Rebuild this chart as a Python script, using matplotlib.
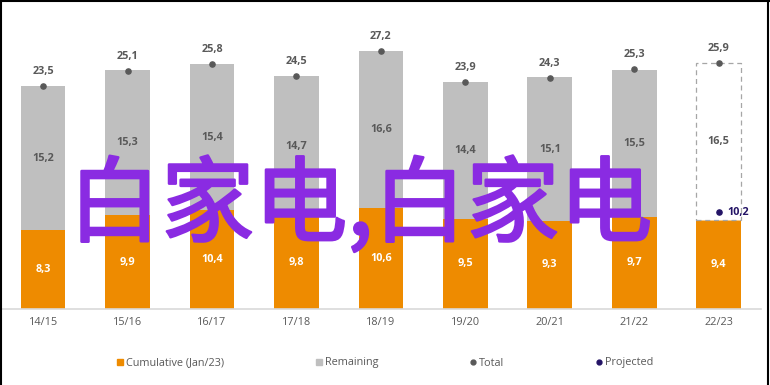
import matplotlib
matplotlib.use("Agg")
import matplotlib.pyplot as plt
from matplotlib.lines import Line2D
import matplotlib.patheffects as pe
import numpy as np

seasons = ["14/15", "15/16", "16/17", "17/18", "18/19", "19/20", "20/21", "21/22", "22/23"]
cumulative = [8.3, 9.9, 10.4, 9.8, 10.6, 9.5, 9.3, 9.7, 9.4]
remaining = [15.2, 15.3, 15.4, 14.7, 16.6, 14.4, 15.1, 15.5, 16.5]
total = [23.5, 25.1, 25.8, 24.5, 27.2, 23.9, 24.3, 25.3, 25.9]
projected = [None, None, None, None, None, None, None, None, 10.2]
projected_flag = [False, False, False, False, False, False, False, False, True]

ORANGE = "#EE8B00"
GREY = "#BFBFBF"
DOT = "#595959"
PROJ = "#241466"
TXT = "#595959"
WM = "#8A2BE2"

plt.rcParams['font.family'] = ['Open Sans', 'DejaVu Sans']

def fmt(v):
    return f"{v:.1f}".replace(".", ",")

fig = plt.figure(figsize=(7.7, 3.85), dpi=100)
ax = fig.add_axes([0.0, 0.1974, 0.9883, 0.7395])

x = np.arange(len(seasons))
w = 0.53
FS = 7.8

ax.bar(x, cumulative, width=w, color=ORANGE, zorder=2)
for i in range(len(seasons)):
    if projected_flag[i]:
        ax.bar(x[i], remaining[i], bottom=cumulative[i], width=w, facecolor="white",
               edgecolor="#A6A6A6", linestyle=(0, (4, 3)), linewidth=0.9, zorder=2)
    else:
        ax.bar(x[i], remaining[i], bottom=cumulative[i], width=w, color=GREY, zorder=2)

ax.scatter(x, total, s=14, color=DOT, zorder=4)

for i in range(len(seasons)):
    ax.text(x[i], cumulative[i] / 2, fmt(cumulative[i]), ha="center", va="center",
            color="white", fontsize=FS, fontweight="bold", zorder=5)
    ax.text(x[i], cumulative[i] + remaining[i] / 2, fmt(remaining[i]), ha="center", va="center",
            color=TXT, fontsize=FS, fontweight="bold", zorder=5)
    ax.annotate(fmt(total[i]), (x[i], total[i]), xytext=(0, 6.5), textcoords="offset points",
                ha="center", va="bottom", color=TXT, fontsize=FS, fontweight="bold", zorder=5)
    if projected[i] is not None:
        ax.scatter([x[i]], [projected[i]], s=14, color=PROJ, zorder=5)
        ax.annotate(fmt(projected[i]), (x[i], projected[i]), xytext=(6, 0), textcoords="offset points",
                    ha="left", va="center", color=PROJ, fontsize=FS, fontweight="bold", zorder=5)

ax.set_xlim(-0.51, 8.5)
ax.set_ylim(0, 30)
ax.set_xticks(x)
ax.set_xticklabels(seasons, color=TXT, fontsize=FS)
ax.tick_params(axis="x", length=0, pad=6)
ax.set_yticks([])
for s in ["left", "right", "top"]:
    ax.spines[s].set_visible(False)
ax.spines["bottom"].set_color("#D9D9D9")
ax.spines["bottom"].set_linewidth(1.2)

handles = [
    Line2D([0], [0], marker="s", linestyle="none", color=ORANGE, markersize=4.5),
    Line2D([0], [0], marker="s", linestyle="none", color=GREY, markersize=4.5),
    Line2D([0], [0], marker="o", linestyle="none", color=DOT, markersize=3.5),
    Line2D([0], [0], marker="o", linestyle="none", color=PROJ, markersize=3.5),
]
labels = ["Cumulative (Jan/23)", "Remaining", "Total", "Projected"]
leg = fig.legend(handles, labels, loc="center", bbox_to_anchor=(0.5, 1 - 363 / 385), ncol=4,
                 frameon=False, fontsize=FS, handlelength=0.6, handletextpad=0.3,
                 columnspacing=8.4)
for t in leg.get_texts():
    t.set_color(TXT)

# watermark overlay
fig.text(360 / 770, 1 - 207 / 385, "白家电,白家电", ha="center", va="center",
         fontsize=67, color=WM, fontweight="normal",
         family=["Noto Sans CJK SC", "DejaVu Sans"], zorder=10,
         path_effects=[pe.withStroke(linewidth=1.8, foreground=WM)])

# figure border (left, top, right)
for coords in [([0.001, 0.001], [0, 1]), ([0, 1], [0.998, 0.998]), ([0.998, 0.998], [0, 1])]:
    fig.add_artist(Line2D(coords[0], coords[1], color="black", linewidth=1.5, transform=fig.transFigure))

fig.savefig("out.png", dpi=100)
